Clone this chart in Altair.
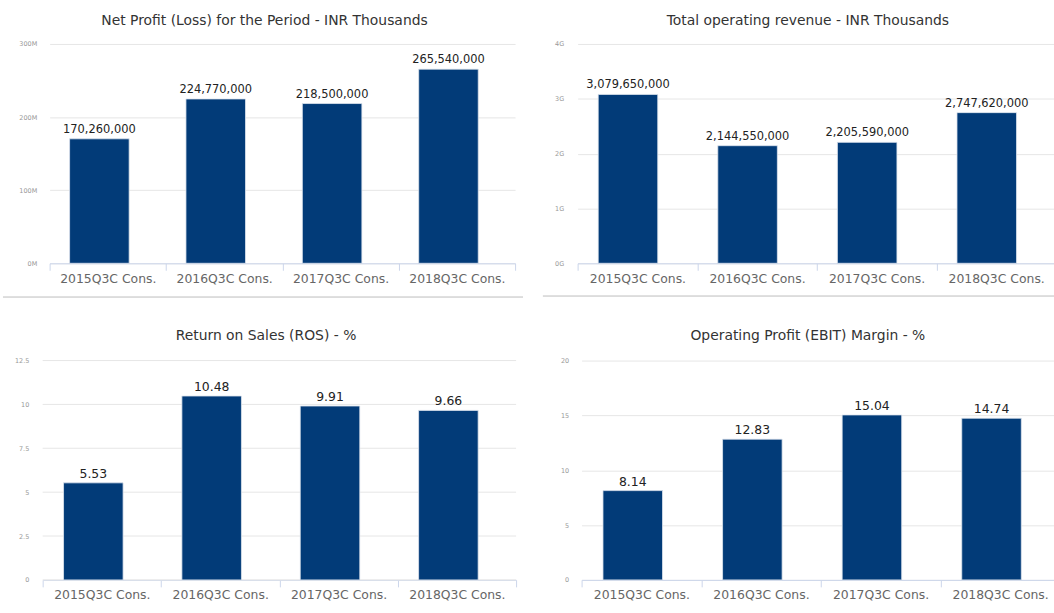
import altair as alt
import pandas as pd

categories = ["2015Q3C Cons.", "2016Q3C Cons.", "2017Q3C Cons.", "2018Q3C Cons."]
net_profit = [170260000, 224770000, 218500000, 265540000]
revenue = [3079650000, 2144550000, 2205590000, 2747620000]
ros = [5.53, 10.48, 9.91, 9.66]
ebit_margin = [8.14, 12.83, 15.04, 14.74]

profit_ticks = [0, 1e8, 2e8, 3e8]
revenue_ticks = [0, 1e9, 2e9, 3e9, 4e9]
ros_ticks = [0, 2.5, 5, 7.5, 10, 12.5]
ebit_ticks = [0, 5, 10, 15, 20]

FONT = "DejaVu Sans"
BAR = "#023b78"
GRID = "#e6e6e6"


def panel(values, title, ymax, yticks, label_expr, fmt, width, axis_ext,
          label_pad, text_size, xoff, text_dy, title_offset, title_dx,
          sep=None, xrange=None):
    df = pd.DataFrame({"cat": categories, "val": values})
    base = alt.Chart(df)
    scale_kw = dict(paddingInner=0, paddingOuter=0)
    if xrange is not None:
        scale_kw["range"] = xrange
    x = alt.X("cat:N", sort=None, scale=alt.Scale(**scale_kw),
              axis=alt.Axis(title=None, labelAngle=0, tickBand="extent",
                            domainColor="#ccd6eb", tickColor="#ccd6eb",
                            tickSize=7, labelPadding=2, labelFontSize=12.5,
                            labelColor="#666666", labelFont=FONT, grid=False))
    y = alt.Y("val:Q", scale=alt.Scale(domain=[0, ymax], nice=False),
              axis=alt.Axis(title=None, values=yticks, labelExpr=label_expr,
                            grid=xrange is None, gridColor=GRID, domain=False,
                            ticks=False, labelFontSize=6.5, labelColor="#999999",
                            labelFont=FONT, labelPadding=label_pad,
                            minExtent=axis_ext, maxExtent=axis_ext))
    layers = []
    if xrange is not None:
        gdf = pd.DataFrame({"val": yticks})
        layers.append(alt.Chart(gdf).mark_rule(color=GRID, strokeWidth=1).encode(
            y=alt.Y("val:Q"), x=alt.value(xrange[0]), x2=alt.value(xrange[1])))
    bars = base.mark_bar(width=60, xOffset=xoff, color=BAR, stroke="#dfe6ef",
                         strokeWidth=0.8).encode(x=x, y=y)
    text = base.mark_text(xOffset=xoff, dy=text_dy, baseline="alphabetic",
                          fontSize=text_size, font=FONT, color="#222222").encode(
        x=alt.X("cat:N", sort=None), y="val:Q",
        text=alt.Text("val:Q", format=fmt))
    layers += [bars, text]
    if sep is not None:
        sdf = pd.DataFrame({"k": [0]})
        rule = alt.Chart(sdf).mark_rule(color="#bcbcbc", strokeWidth=1).encode(
            x=alt.value(sep[0]), x2=alt.value(sep[1]), y=alt.value(sep[2]))
        layers.append(rule)
    return alt.layer(*layers).properties(
        width=width, height=221,
        title=alt.TitleParams(title, fontSize=14, color="#333333", font=FONT,
                              fontWeight="normal", offset=title_offset,
                              dx=title_dx, baseline="alphabetic",
                              anchor="middle"))


tl = panel(net_profit, "Net Profit (Loss) for the Period - INR Thousands",
           3e8, profit_ticks, "datum.value/1e6 + 'M'", ",",
           469, 50, 13, 11.5, -8.5, -6, 2, -18, sep=(-47, 477, 255))
tr = panel(revenue, "Total operating revenue - INR Thousands",
           4e9, revenue_ticks, "datum.value/1e9 + 'G'", ",",
           482, 30, 14, 11.5, -9.5, -6, 2, -9, sep=(-35, 482, 254))
bl = panel(ros, "Return on Sales (ROS) - %",
           12.5, ros_ticks, "datum.value + ''", ".2f",
           470, 50, 21, 12.5, -8.6, -5, 4, -17, xrange=[-7, 470])
br = panel(ebit_margin, "Operating Profit (EBIT) Margin - %",
           20, ebit_ticks, "datum.value + ''", ".2f",
           482, 40, 13, 12.5, -8.7, -5, 4, -13)

chart = alt.concat(tl, tr, bl, br, columns=2, align="none",
                   spacing={"column": 18, "row": 31}).properties(
    padding={"left": 0, "top": 12, "right": -7, "bottom": 0}
).configure(font=FONT, background="white").configure_view(stroke=None)

chart.save("out.html", embed_options={"renderer": "svg", "actions": False})
